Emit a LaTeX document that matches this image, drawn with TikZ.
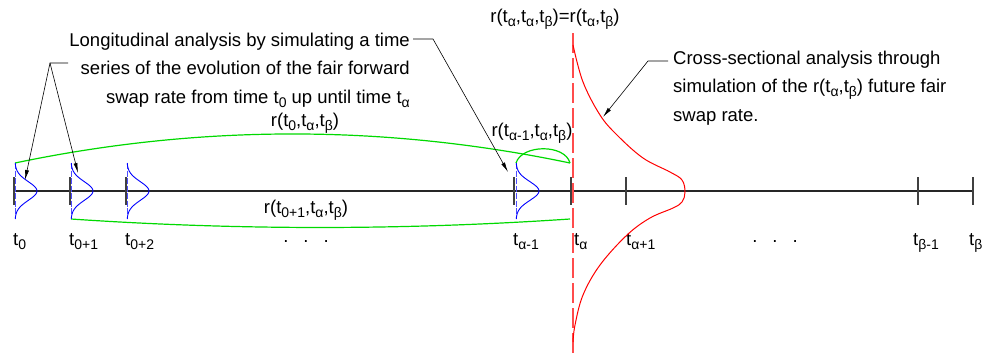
\documentclass[tikz,border=0pt]{standalone}
\usepackage{fontspec}
\setmainfont{Liberation Sans}
\usepackage{tikz}
\usetikzlibrary{arrows.meta, positioning}
\newcommand{\sbs}[1]{\raisebox{-4pt}{\fontsize{14}{14}\selectfont #1}}

\begin{document}
\begin{tikzpicture}[x=1pt, y=-1pt,
  lbl/.style={font=\fontsize{18.5}{28.5}\selectfont, inner sep=0pt},
  timeline/.style={black!85, line width=1.2pt},
  tickmark/.style={black!75, line width=1.3pt},
  dist/.style={blue, line width=0.9pt},
  distaxis/.style={blue!70, line width=1pt, dash pattern=on 6pt off 1.5pt},
  simpath/.style={green!85!black, line width=1.2pt},
  cross/.style={red, line width=1pt},
  cutline/.style={red!70, line width=1.4pt, dash pattern=on 20pt off 5pt},
  arrow/.style={-{Latex[length=10pt, width=4pt]}, black, line width=0.6pt}
]
\useasboundingbox (0,0) rectangle (984,356);

% time axis
\coordinate (t0) at (14,191);
\coordinate (t1) at (70,191);
\coordinate (t2) at (126,191);
\coordinate (tAm) at (514,191);
\coordinate (tA) at (571,191);
\coordinate (tAp) at (626,191);
\coordinate (tBm) at (918,191);
\coordinate (tB) at (973,191);

\draw[timeline] (t0) -- (tB);
\draw[timeline, line width=2pt] (487,191) -- (653,191);

\draw[tickmark] (t0) ++(0,-14) -- ++(0,28);
\draw[tickmark] (t1) ++(0,-14) -- ++(0,28);
\draw[tickmark] (t2) ++(0,-14) -- ++(0,28);
\draw[tickmark] (tAm) ++(0,-14) -- ++(0,28);
\draw[tickmark] (tA) ++(0,-14) -- ++(0,28);
\draw[tickmark] (tAp) ++(0,-14) -- ++(0,28);
\draw[tickmark] (tBm) ++(0,-14) -- ++(0,28);
\draw[tickmark] (tB) ++(0,-14) -- ++(0,28);

\node[lbl, anchor=base west] (l0) at (13,245) {t\sbs{0}};
\node[lbl, anchor=base west] (l1) at (69,245) {t\sbs{0+1}};
\node[lbl, anchor=base west] (l2) at (125,245) {t\sbs{0+2}};
\node[lbl, anchor=base] (dotsL) at (306,242) {.\hspace{15pt}.\hspace{15pt}.};
\node[lbl, anchor=base west] (lAm) at (513,245) {t\sbs{α-1}};
\node[lbl, anchor=base west] (lA) at (574,245) {t\sbs{α}};
\node[lbl, anchor=base west] (lAp) at (626,245) {t\sbs{α+1}};
\node[lbl, anchor=base] (dotsR) at (775,242) {.\hspace{15pt}.\hspace{15pt}.};
\node[lbl, anchor=base west] (lBm) at (913,245) {t\sbs{β-1}};
\node[lbl, anchor=base west] (lB) at (969,245) {t\sbs{β}};

% simulated paths
\coordinate (g0) at (15,163);
\coordinate (g1) at (71,219);
\coordinate (gAm) at (516,163);
\coordinate (eU) at (570,163);
\coordinate (eL) at (570,219);
\draw[simpath] (g0) .. controls (200,124.3) and (385,124.3) .. (eU);
\draw[simpath] (g1) .. controls (237,230.3) and (403,230.3) .. (eL);
\draw[simpath] (gAm) .. controls (522,144) and (565,144) .. (eU);

\node[lbl, anchor=base] (r0) at (305,126) {r(t\sbs{0},t\sbs{α},t\sbs{β})};
\node[lbl, anchor=base] (r1) at (306,213) {r(t\sbs{0+1},t\sbs{α},t\sbs{β})};
\node[lbl, anchor=base] (rAm) at (532,136) {r(t\sbs{α-1},t\sbs{α},t\sbs{β})};

% distributions along the time series
\draw[distaxis] (g0) -- ++(0,56);
\draw[distaxis] (71,163) -- (g1);
\draw[distaxis] (127,163) -- ++(0,56);
\draw[distaxis] (gAm) -- ++(0,56);
\draw[dist, shift={(15,0)}] plot[domain=-28:28, samples=41] ({22*exp(-\x*\x/174)}, {191+\x});
\draw[dist, shift={(71,0)}] plot[domain=-28:28, samples=41] ({22*exp(-\x*\x/174)}, {191+\x});
\draw[dist, shift={(127,0)}] plot[domain=-28:28, samples=41] ({22*exp(-\x*\x/174)}, {191+\x});
\draw[dist, shift={(516,0)}] plot[domain=-28:28, samples=41] ({23*exp(-\x*\x/174)}, {191+\x});

% cross-section at t alpha
\draw[cutline] (573,33) -- (573,356);
\draw[cross] plot[smooth, tension=0.6] coordinates {(573,45) (583,82) (600,115) (617,135) (643,158) (670,172) (682,180) (685,192) (682,202) (673,208) (650,218) (627,235) (600,265) (583,295) (575,325) (573,342)};

\node[lbl, anchor=base] (rA) at (555,22) {r(t\sbs{α},t\sbs{α},t\sbs{β})=r(t\sbs{α},t\sbs{β})};

% annotations
\node[lbl, align=right, anchor=base east] (longi) at (410,103) {Longitudinal analysis by simulating a time\\ series of the evolution of the fair forward\\ swap rate from time t\sbs{0} up until time t\sbs{α}};
\node[lbl, align=left, anchor=base west] (crosstxt) at (673,121) {Cross-sectional analysis through\\ simulation of the r(t\sbs{α},t\sbs{β}) future fair\\ swap rate.};

\coordinate (la) at (413,39);
\coordinate (lk) at (433,39);
\coordinate (pAm) at (508,172);
\coordinate (lb) at (68,63);
\coordinate (lj) at (50,63);
\coordinate (p0) at (25,180);
\coordinate (p1) at (78,173);
\coordinate (lc) at (668,61);
\coordinate (ln) at (648,61);
\coordinate (pX) at (603,117);

\draw[arrow] (la) -- (lk) -- (pAm);
\draw[arrow] (lb) -- (lj) -- (p0);
\draw[arrow] (lj) -- (p1);
\draw[arrow] (lc) -- (ln) -- (pX);

\end{tikzpicture}
\end{document}
